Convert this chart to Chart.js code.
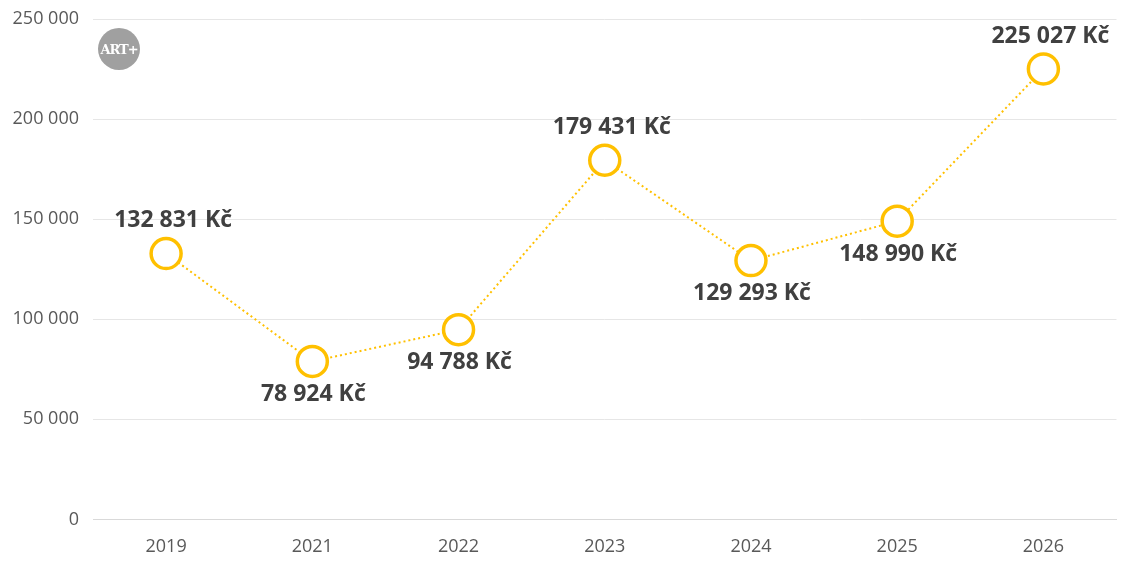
<!DOCTYPE html>
<html>
<head>
<meta charset="utf-8">
<script src="https://cdn.jsdelivr.net/npm/chart.js@4/dist/chart.umd.min.js"></script>
<style>
  html, body { margin: 0; padding: 0; background: #fff; }
  #wrap { position: relative; width: 1135px; height: 567px; }
  #logo {
    position: absolute; left: 98px; top: 28px; width: 42px; height: 42px;
    border-radius: 50%; background: #a0a0a0; color: #fff;
    font: bold 13px "DejaVu Serif", serif; letter-spacing: -1px;
    display: flex; align-items: center; justify-content: center;
  }
</style>
</head>
<body>
<div id="wrap">
  <canvas id="grafico" width="1135" height="567"></canvas>
  <div id="logo">ART+</div>
</div>
<script>
const roky = ['2019', '2021', '2022', '2023', '2024', '2025', '2026'];
const castky = [132831, 78924, 94788, 179431, 129293, 148990, 225027];
// kde ma byt popisek: nahore nebo dole
const pozice = ['up', 'down', 'down', 'up', 'down', 'down', 'up'];

function formatCislo(n) {
    return String(n).replace(/\B(?=(\d{3})+(?!\d))/g, ' ');
}

const popisky = {
    id: 'popisky',
    afterDatasetsDraw(chart) {
        const ctx = chart.ctx;
        const meta = chart.getDatasetMeta(0);
        ctx.save();
        ctx.font = 'bold 23px "Open Sans", sans-serif';
        ctx.fillStyle = '#404040';
        ctx.textAlign = 'center';
        ctx.textBaseline = 'middle';
        meta.data.forEach(function(bod, i) {
            const nahore = pozice[i] === 'up';
            const dx = nahore ? 7 : 1;
            const dy = nahore ? -33 : 33;
            ctx.fillText(formatCislo(castky[i]) + ' Kč', bod.x + dx, bod.y + dy);
        });
        ctx.restore();
    }
};

const ctx = document.getElementById('grafico').getContext('2d');
const grafico = new Chart(ctx, {
    type: 'line',
    data: {
        labels: roky,
        datasets: [{
            data: castky,
            borderColor: '#FFC000',
            borderWidth: 2,
            borderDash: [2, 3],
            pointRadius: 15,
            pointBorderWidth: 3.5,
            pointBackgroundColor: '#fff',
            pointBorderColor: '#FFC000',
            tension: 0
        }]
    },
    options: {
        responsive: false,
        animation: false,
        layout: { padding: { top: 19, right: 9, left: 0, bottom: 0 } },
        plugins: {
            legend: { display: false },
            tooltip: { enabled: false }
        },
        scales: {
            x: {
                offset: true,
                grid: { display: false },
                border: { color: '#d9d9d9' },
                afterFit: function(scale) {
                    scale.paddingLeft = 0;
                    scale.paddingRight = 0;
                },
                ticks: {
                    color: '#595959',
                    font: { size: 18, family: '"Open Sans", sans-serif' },
                    padding: 9
                }
            },
            y: {
                min: 0,
                max: 250000,
                grid: { color: '#e6e6e6', drawTicks: false },
                border: { display: false },
                afterFit: function(scale) {
                    scale.width = 93;
                    scale.paddingTop = 0;
                    scale.paddingBottom = 0;
                },
                ticks: {
                    stepSize: 50000,
                    color: '#595959',
                    padding: 14,
                    font: { size: 18, family: '"Open Sans", sans-serif' },
                    callback: function(v) { return formatCislo(v); }
                }
            }
        }
    },
    plugins: [popisky]
});
</script>
</body>
</html>
